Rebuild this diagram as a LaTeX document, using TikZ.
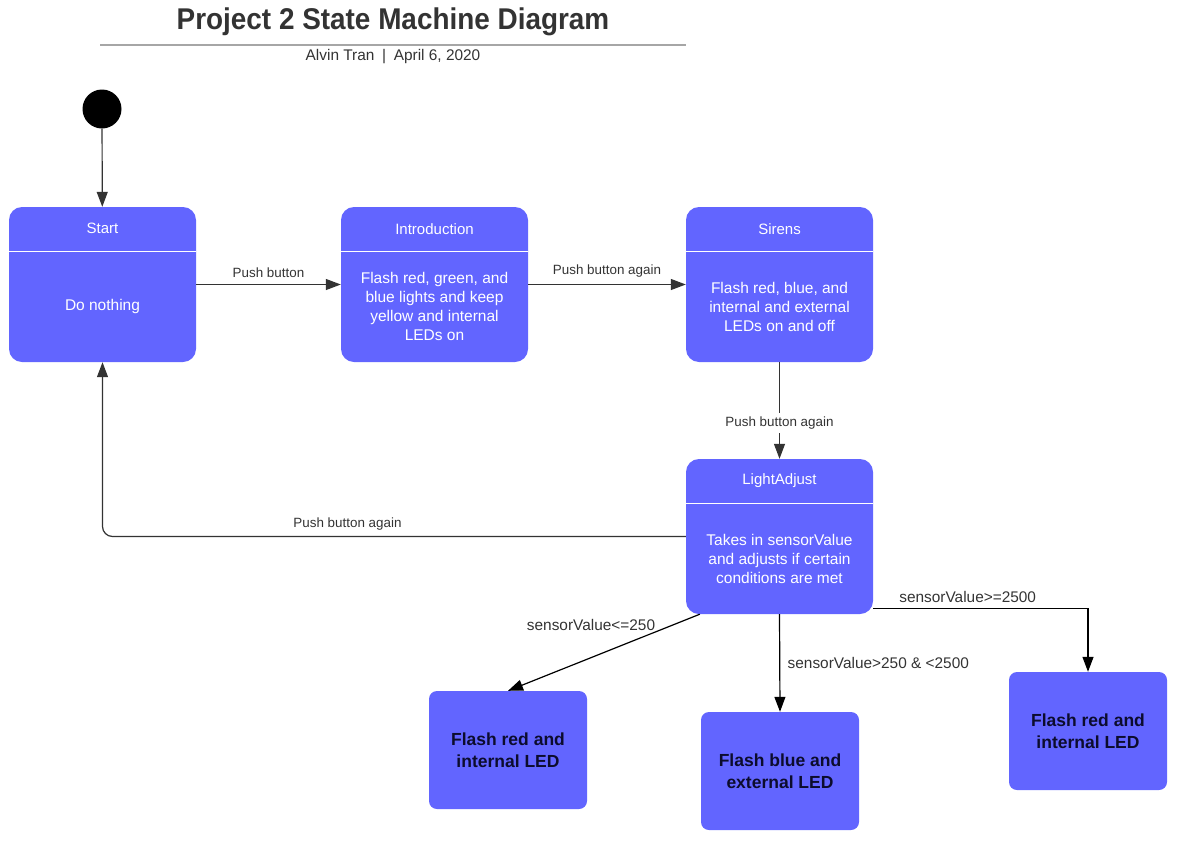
\documentclass[tikz,border=0pt]{standalone}
\usepackage{fontspec}
\setmainfont{Liberation Sans}
\usetikzlibrary{positioning,arrows.meta}
\definecolor{stateblue}{RGB}{98,101,255}
\definecolor{linegray}{RGB}{51,51,51}
\definecolor{inkblue}{RGB}{12,12,45}
\tikzset{
  state/.style={rectangle,rounded corners=13pt,fill=stateblue,minimum width=187pt,minimum height=155pt,inner sep=0pt},
  outcome/.style={rectangle,rounded corners=8pt,fill=stateblue,minimum width=158pt,minimum height=118pt,align=center,text=inkblue,font=\fontsize{17.5}{22}\selectfont\bfseries},
  head/.style={text=white,font=\fontsize{15}{19}\selectfont},
  body/.style={text=white,align=center,font=\fontsize{15.5}{19}\selectfont},
  arr/.style={line width=1.2pt,linegray,-{Triangle[length=15pt,width=11pt]}},
  lbl/.style={text=linegray,font=\fontsize{13.4}{15}\selectfont},
  sense/.style={text=linegray,font=\fontsize{15.4}{17}\selectfont},
}
\begin{document}
\begin{tikzpicture}[x=1pt,y=-1pt]
  \useasboundingbox (0,0) rectangle (1191,854);
  % title block
  \node[font=\fontsize{30}{32}\selectfont\bfseries,text=linegray,xscale=0.93] (title) at (393,22) {Project 2 State Machine Diagram};
  \draw[gray!70,line width=1.5pt](100,45)--(686,45);
  \node[lbl,font=\fontsize{15.4}{17}\selectfont] (author) at (393,57) {Alvin Tran\enspace|\enspace April 6, 2020};
  % states
  \node[circle,fill=black,minimum size=39pt,inner sep=0pt] (init) at (102,109) {};
  \node[state] (start) at (102.5,284.5) {};
  \node[state] (intro) at (434.5,284.5) {};
  \node[state] (sirens) at (779.5,284.5) {};
  \node[state] (light) at (779.5,536.5) {};
  \foreach \s in {start,intro,sirens,light}
    \draw[white,line width=1.2pt]([yshift=-45pt]\s.north west)--([yshift=-45pt]\s.north east);
  \node[head] (start-h) at ([yshift=-22pt]start.north) {Start};
  \node[body] (start-b) at ([yshift=-22pt]start.center) {Do nothing};
  \node[head] (intro-h) at ([yshift=-22pt]intro.north) {Introduction};
  \node[body] (intro-b) at ([yshift=-22pt]intro.center) {Flash red, green, and\\blue lights and keep\\yellow and internal\\LEDs on};
  \node[head] (sirens-h) at ([yshift=-22pt]sirens.north) {Sirens};
  \node[body] (sirens-b) at ([yshift=-22pt]sirens.center) {Flash red, blue, and\\internal and external\\LEDs on and off};
  \node[head] (light-h) at ([yshift=-22pt]light.north) {LightAdjust};
  \node[body] (light-b) at ([yshift=-22pt]light.center) {Takes in sensorValue\\and adjusts if certain\\conditions are met};
  \node[outcome] (low) at (508,750) {Flash red and\\internal LED};
  \node[outcome] (mid) at (780,771) {Flash blue and\\external LED};
  \node[outcome] (high) at (1088,731) {Flash red and\\internal LED};
  % transitions
  \draw[arr](init)--(start);
  \draw[arr](start)--node[lbl,above=3pt]{Push button}(intro);
  \draw[arr](intro)--node[lbl,above=3pt]{Push button again}(sirens);
  \draw[arr](sirens)--node[lbl,fill=white,pos=0.63]{Push button again}(light);
  \draw[arr,rounded corners=10pt](light)-|node[lbl,pos=0.29,above=2pt]{Push button again}(start);
  \draw[arr,black]([xshift=14pt]light.south west)--node[sense,pos=0.15,anchor=east,xshift=-12pt,yshift=1pt]{sensorValue<=250}(low.north);
  \draw[arr,black](light.south)--node[sense,midway,right=4pt]{sensorValue>250 \& <2500}(mid.north);
  \draw[arr,black]([yshift=6pt]light.south east)-|node[sense,pos=0.22,above=2pt]{sensorValue>=2500}(high.north);
\end{tikzpicture}
\end{document}
